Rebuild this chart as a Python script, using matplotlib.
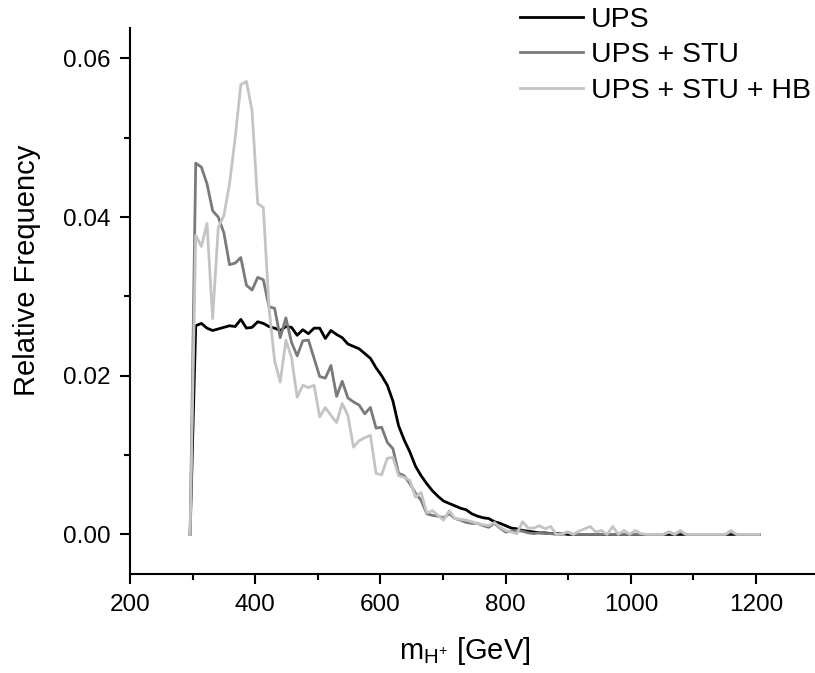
import numpy as np
import matplotlib
matplotlib.use('Agg')
import matplotlib.pyplot as plt
from matplotlib.ticker import MultipleLocator

plt.rcParams['font.family'] = ['Liberation Sans', 'DejaVu Sans']
plt.rcParams['mathtext.fontset'] = 'custom'
plt.rcParams['mathtext.rm'] = 'Liberation Sans'
plt.rcParams['mathtext.it'] = 'Liberation Sans'

# bin centres (9 GeV bins)
mass = np.arange(296, 1206, 9)

ups = [
    0, 0.0263, 0.0266, 0.0260, 0.0257, 0.0259, 0.0261, 0.0263, 0.0262, 0.0271,
    0.0260, 0.0261, 0.0268, 0.0266, 0.0262, 0.0260, 0.0257, 0.0262, 0.0261, 0.0251,
    0.0258, 0.0253, 0.0260, 0.0260, 0.0247, 0.0257, 0.0252, 0.0248, 0.0240, 0.0237,
    0.0234, 0.0228, 0.0222, 0.0210, 0.0200, 0.0188, 0.0168, 0.0137, 0.0119, 0.0104,
    0.0086, 0.0074, 0.0064, 0.0055, 0.0048, 0.0042, 0.0039, 0.0036, 0.0033, 0.0031,
    0.0026, 0.0023, 0.0021, 0.0020, 0.0016, 0.0014, 0.0011, 0.0008, 0.0007, 0.0005,
    0.0004, 0.0003, 0.0002, 0.0002, 0.0001, 0.0001, 0.0001, 0, 0, 0,
    0, 0, 0, 0, 0, 0, 0, 0, 0, 0,
    0, 0, 0, 0, 0, 0, 0, 0, 0, 0,
    0, 0, 0, 0, 0, 0, 0, 0, 0, 0,
    0, 0,
]

ups_stu = [
    0, 0.0468, 0.0463, 0.0442, 0.0408, 0.0400, 0.0380, 0.0340, 0.0342, 0.0349,
    0.0314, 0.0308, 0.0324, 0.0321, 0.0287, 0.0285, 0.0248, 0.0273, 0.0242, 0.0225,
    0.0244, 0.0245, 0.0222, 0.0199, 0.0197, 0.0213, 0.0174, 0.0193, 0.0172, 0.0167,
    0.0163, 0.0152, 0.0160, 0.0134, 0.0135, 0.0116, 0.0108, 0.0077, 0.0074, 0.0064,
    0.0052, 0.0043, 0.0026, 0.0024, 0.0023, 0.0021, 0.0026, 0.0020, 0.0018, 0.0015,
    0.0014, 0.0014, 0.0011, 0.0009, 0.0014, 0.0008, 0.0003, 0.0004, 0.0005, 0.0004,
    0.0002, 0.0001, 0.0002, 0.0001, 0.0001, 0, 0, 0.0003, 0, 0,
    0, 0, 0, 0, 0, 0, 0, 0, 0, 0,
    0, 0, 0, 0, 0, 0.0003, 0, 0.0003, 0, 0,
    0, 0, 0, 0, 0, 0, 0.0003, 0, 0, 0,
    0, 0,
]

ups_stu_hb = [
    0, 0.0377, 0.0363, 0.0392, 0.0272, 0.0387, 0.0402, 0.0442, 0.0500, 0.0567,
    0.0571, 0.0534, 0.0417, 0.0412, 0.0286, 0.0219, 0.0192, 0.0245, 0.0223, 0.0173,
    0.0188, 0.0185, 0.0188, 0.0148, 0.0160, 0.0150, 0.0141, 0.0165, 0.0150, 0.0110,
    0.0118, 0.0122, 0.0125, 0.0077, 0.0075, 0.0096, 0.0097, 0.0074, 0.0072, 0.0068,
    0.0047, 0.0053, 0.0027, 0.0030, 0.0024, 0.0018, 0.0030, 0.0020, 0.0019, 0.0018,
    0.0016, 0.0014, 0.0012, 0.0011, 0.0015, 0.0009, 0.0005, 0.0003, 0.0001, 0.0016,
    0.0008, 0.0008, 0.0011, 0.0007, 0.0010, 0, 0.0001, 0.0003, 0, 0.0004,
    0.0007, 0.0010, 0.0003, 0.0005, 0, 0.0010, 0, 0.0005, 0, 0.0005,
    0.0001, 0, 0, 0, 0, 0.0003, 0, 0.0005, 0, 0,
    0, 0, 0, 0, 0, 0, 0.0005, 0, 0, 0,
    0, 0,
]

fig, ax = plt.subplots(figsize=(8.15, 6.73), dpi=100)
ax.set_position([0.1595, 0.147, 0.845, 0.811])

ax.plot(mass, ups, color='black', linewidth=2.0, label='UPS')
ax.plot(mass, ups_stu, color='#7a7a7a', linewidth=2.0, label='UPS + STU')
ax.plot(mass, ups_stu_hb, color='#c4c4c4', linewidth=2.0, label='UPS + STU + HB')

ax.set_xlim(200, 1300)
ax.set_ylim(-0.005, 0.0638)
ax.xaxis.set_major_locator(MultipleLocator(200))
ax.xaxis.set_minor_locator(MultipleLocator(100))
ax.yaxis.set_major_locator(MultipleLocator(0.02))
ax.yaxis.set_minor_locator(MultipleLocator(0.01))
ax.yaxis.set_major_formatter(matplotlib.ticker.FormatStrFormatter('%.2f'))

ax.spines['top'].set_visible(False)
ax.spines['right'].set_visible(False)
for s in ['left', 'bottom']:
    ax.spines[s].set_linewidth(1.5)
ax.tick_params(which='major', length=7, width=1.5, labelsize=17.5, pad=7)
ax.tick_params(which='minor', length=4, width=1.5)

ax.set_xlabel(r'm$_{\mathregular{H^{+}}}$ [GeV]', fontsize=21)
ax.set_ylabel('Relative Frequency', fontsize=21)
ax.xaxis.set_label_coords(0.486, -0.112)
ax.yaxis.set_label_coords(-0.129, 0.557)

ax.legend(loc='upper left', bbox_to_anchor=(0.638, 0.990), bbox_transform=fig.transFigure,
          frameon=False, fontsize=20.5, handlelength=2.2, handletextpad=0.3,
          labelspacing=0.34, borderpad=0, borderaxespad=0)

plt.savefig('out.png', dpi=100)
plt.close()
